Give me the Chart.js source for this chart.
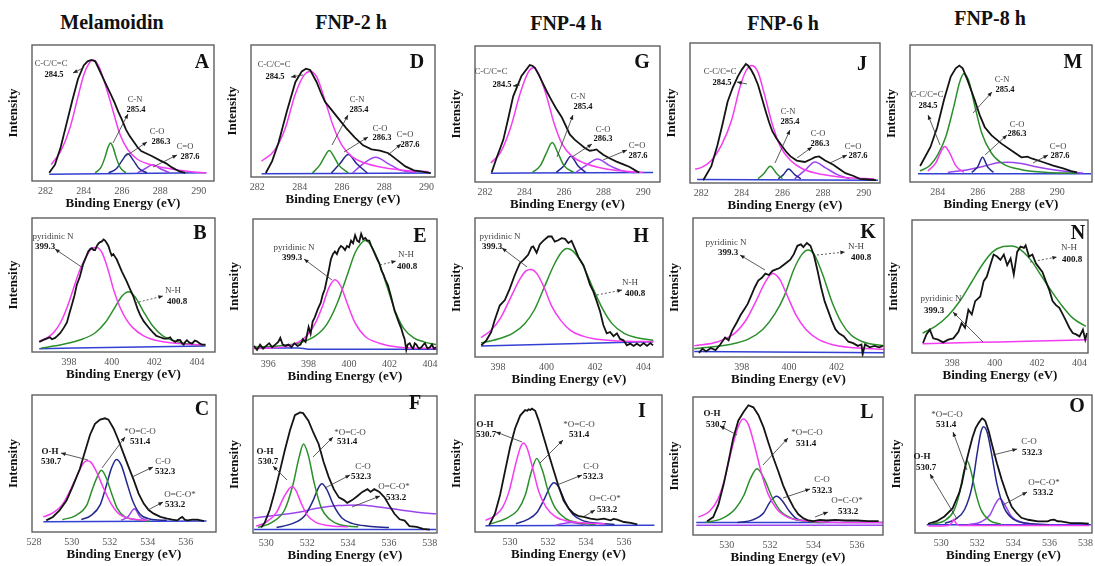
<!DOCTYPE html>
<html>
<head>
<meta charset="utf-8">
<script src="https://cdn.jsdelivr.net/npm/chart.js@4.4.1/dist/chart.umd.min.js"></script>
<style>
  body { margin: 0; background: #fff; width: 1095px; height: 566px; overflow: hidden; position: relative; font-family: "Liberation Serif", serif; }
  canvas { position: absolute; }
  .sample { position: absolute; font-weight: bold; font-size: 20px; color: #111; transform: translate(-50%, -50%); white-space: nowrap; }
</style>
</head>
<body>
<script>
// ---- categories / labels ----
const sampleNames = ["Melamoidin", "FNP-2 h", "FNP-4 h", "FNP-6 h", "FNP-8 h"];
const c1sNames = ["C-C/C=C", "C-N", "C-O", "C=O"];
const c1sEnergies = ["284.5", "285.4", "286.3", "287.6"];
const n1sNames = ["pyridinic N", "N-H"];
const n1sEnergies = ["399.3", "400.8"];
const o1sNames = ["O-H", "*O=C-O", "C-O", "O=C-O*"];
const o1sEnergies = ["530.7", "531.4", "532.3", "533.2"];

// ---- tick labels ----
const c1sTicks = [282, 284, 286, 288, 290];
const c1sTicksM = [284, 286, 288, 290];
const n1sTicks = [398, 400, 402, 404];
const n1sTicksE = [396, 398, 400, 402, 404];
const n1sTicksK = [398, 400, 402];
const o1sTicksC = [528, 530, 532, 534, 536];
const o1sTicksF = [530, 532, 534, 536, 538];
const o1sTicksI = [530, 532, 534, 536];

// ---- C 1s series: [binding energy, intensity %] ----
const A_raw = [[282.2,6],[282.5,12],[282.8,25],[283.1,42],[283.4,59],[283.7,75],[284.0,85],[284.2,88],[284.4,89],[284.6,88],[284.8,82],[285.0,76],[285.2,70],[285.4,64],[285.6,58],[285.8,51],[286.0,45],[286.2,38],[286.4,33],[286.6,29],[286.8,25],[287.0,22],[287.3,20],[287.6,18],[288.0,15],[288.3,13],[288.6,10],[289.0,7],[289.3,6]];
const A_cc = [[282.3,12],[282.8,22],[283.3,40],[283.7,62],[284.0,78],[284.3,87],[284.5,89],[284.8,84],[285.1,72],[285.5,53],[285.9,34],[286.3,23],[286.8,16],[287.5,12],[288.5,9],[289.5,7],[290.4,6]];
const A_cn = [[284.6,6],[284.9,10],[285.1,17],[285.25,24],[285.4,28],[285.55,24],[285.7,17],[285.9,10],[286.2,6]];
const A_co = [[285.3,6],[285.7,9],[286.0,15],[286.3,20],[286.6,15],[286.9,9],[287.3,6]];
const A_cdo = [[286.8,6],[287.2,9],[287.6,12],[288.0,9],[288.5,6]];
const A_base = [[282.2,5],[290.4,6]];

const D_raw = [[282.4,3],[282.7,12],[283.0,26],[283.4,50],[283.8,72],[284.1,80],[284.3,82],[284.5,81],[284.8,72],[285.0,64],[285.2,57],[285.5,51],[285.8,45],[286.0,41],[286.2,37],[286.6,30],[287.0,24],[287.4,21],[287.8,20],[288.2,18],[288.6,13],[289.0,8],[289.4,5],[289.8,4],[290.2,3]];
const D_cc = [[282.2,12],[282.8,20],[283.3,36],[283.8,63],[284.2,77],[284.5,80],[284.8,76],[285.2,58],[285.6,38],[286.0,24],[286.5,15],[287.0,11],[288.0,7],[289.0,5],[290.1,4]];
const D_cn = [[284.6,3],[284.95,9],[285.2,16],[285.4,20],[285.6,16],[285.85,9],[286.3,3]];
const D_co = [[285.5,3],[285.9,10],[286.3,17],[286.7,10],[287.2,3]];
const D_cdo = [[286.5,3],[287.0,10],[287.6,15],[288.2,10],[288.8,5],[289.5,3]];
const D_base = [[282.2,2.5],[290.2,3]];

const G_raw = [[282.34,7],[282.6,18],[282.93,31],[283.2,48],[283.43,63],[283.85,78],[284.27,86],[284.4,85.5],[284.53,84],[284.75,78],[284.95,72],[285.15,66],[285.37,60],[285.6,54],[285.87,48],[286.1,41],[286.29,35],[286.55,31],[286.8,28],[287.05,25],[287.3,23],[287.5,23.5],[287.64,24],[287.8,22],[287.98,20],[288.3,17.5],[288.65,15],[289.0,13],[289.32,11],[289.66,8],[289.8,7]];
const G_cc = [[282.3,14],[282.8,22],[283.3,40],[283.8,66],[284.2,81],[284.45,84],[284.7,80],[285.1,64],[285.5,43],[285.9,28],[286.4,19],[287.0,14],[288.0,10],[289.0,8],[290.0,7]];
const G_cn = [[284.4,7],[284.8,12],[285.1,21],[285.4,29],[285.7,21],[286.0,12],[286.5,7]];
const G_co = [[285.6,7],[286.0,12],[286.34,19],[286.7,12],[287.1,7]];
const G_cdo = [[286.6,7],[287.1,12],[287.7,17],[288.3,12],[289.0,8],[289.6,7]];
const G_base = [[282.3,6.5],[290.5,7]];

const J_raw = [[282.1,2],[282.5,12],[282.8,27],[283.05,42],[283.3,58],[283.55,68],[283.8,76],[284.0,81],[284.2,85],[284.3,84],[284.45,81],[284.6,77],[284.8,70],[285.0,60],[285.2,50],[285.35,43],[285.5,37],[285.7,32],[285.95,27],[286.2,22],[286.4,19],[286.7,16],[287.1,15],[287.4,17],[287.6,18.5],[287.8,19],[288.1,16],[288.5,13],[288.8,10],[289.1,7],[289.5,5],[289.8,3],[290.2,2.5],[290.6,2]];
const J_cc = [[281.7,10],[282.0,11],[282.5,16],[283.0,27],[283.5,45],[283.9,68],[284.2,80],[284.5,84],[284.8,79],[285.1,64],[285.5,42],[285.9,26],[286.4,16],[287.0,10],[288.0,6],[289.0,4],[290.5,3]];
const J_cn = [[284.8,3],[285.1,7],[285.4,12],[285.7,7],[286.0,3]];
const J_co = [[285.8,3],[286.05,6],[286.3,10],[286.6,6],[286.9,3]];
const J_cdo = [[286.6,3],[287.1,9],[287.6,15],[288.1,11],[288.7,6],[289.3,3]];
const J_base = [[281.8,2.5],[290.7,2]];

const M_raw = [[283.11,11.7],[283.63,25.6],[283.97,40],[284.31,60],[284.65,77],[284.9,83],[285.08,85],[285.25,83],[285.5,74],[285.85,60],[286.1,49],[286.36,40],[286.7,34],[287.2,28],[287.7,23],[288.2,18],[288.5,18.5],[288.75,17],[289.27,14.6],[289.8,12],[290.3,10],[290.7,8],[291.0,7]];
const M_cc = [[283.5,8],[283.9,14],[284.15,22],[284.35,26],[284.6,21],[284.9,12],[285.3,7]];
const M_cn = [[283.1,8],[283.6,12],[284.0,20],[284.4,33],[284.8,55],[285.1,73],[285.3,79],[285.55,74],[285.85,56],[286.2,36],[286.7,21],[287.3,13],[288.2,9],[289.5,7],[291.0,6.5]];
const M_co = [[285.7,7],[286.0,11],[286.25,18],[286.5,11],[286.8,7]];
const M_cdo = [[284.5,7],[285.5,9],[286.3,11.5],[287.0,14],[287.5,14.5],[288.2,13.5],[289.0,11],[289.8,9],[290.6,7.5],[291.3,6.5]];
const M_base = [[283.0,6],[291.7,6]];

// ---- N 1s series ----
const B_raw = [[396.6,7.5],[396.8,9],[396.95,10],[397.1,11],[397.2,9.5],[397.34,10.5],[397.45,12],[397.58,14],[397.75,18],[397.9,22],[398.0,28],[398.13,35],[398.25,42],[398.36,50],[398.5,56],[398.6,62],[398.67,66],[398.8,71],[398.9,75],[399.0,77],[399.07,77.5],[399.15,76],[399.22,76],[399.3,79],[399.38,81],[399.46,82],[399.54,82.5],[399.62,84],[399.7,83],[399.78,81],[399.85,79],[399.93,75],[400.0,72],[400.08,73],[400.16,71],[400.24,69],[400.32,66],[400.4,63],[400.48,60],[400.6,56],[400.71,52.5],[400.83,48],[400.95,44],[401.03,41],[401.1,37.5],[401.22,32],[401.34,27.5],[401.5,23],[401.65,20],[401.8,17],[401.97,14],[402.1,12],[402.28,11],[402.45,10],[402.6,10],[402.75,11],[402.83,9],[402.98,7.5],[403.1,9],[403.22,8.8],[403.3,6.5],[403.38,5.5],[403.45,7.5],[403.53,8.8],[403.65,7],[403.77,6.2],[403.9,8.5],[404.0,8],[404.12,6.5],[404.24,5.5],[404.4,5.5]];
const B_pyr = [[396.6,8],[397.0,11],[397.3,15],[397.6,22],[397.9,33],[398.2,47],[398.5,61],[398.8,71],[399.05,77],[399.3,78],[399.55,74],[399.8,63],[400.1,46],[400.4,33],[400.7,24],[401.0,18],[401.5,12],[402.0,9],[402.5,7.5],[403.0,6.5],[404.0,5.5],[404.4,5.5]];
const B_nh = [[396.7,3],[397.5,5],[398.5,9],[399.2,14],[399.7,22],[400.1,32],[400.5,42],[400.8,45],[401.1,41],[401.5,30],[401.9,20],[402.4,12],[403.0,8],[403.6,6],[404.4,5]];
const B_base = [[396.6,2.5],[404.4,4.5]];

const E_raw = [[395.3,6],[395.45,3],[395.6,7],[395.75,4],[395.9,6],[396.05,8],[396.2,5],[396.35,7],[396.5,9],[396.6,12],[396.72,7],[396.85,6],[397.0,7],[397.15,5],[397.3,8],[397.45,6],[397.6,7],[397.72,11],[397.85,9],[398.0,20],[398.1,15],[398.2,24],[398.3,27],[398.45,33],[398.6,38],[398.7,44],[398.8,48],[398.9,55],[399.0,62],[399.1,70],[399.2,74],[399.3,76],[399.4,74],[399.5,78],[399.6,80],[399.7,79],[399.8,77],[399.9,80],[400.0,79],[400.1,84],[400.2,82],[400.3,88],[400.4,84],[400.5,83],[400.6,89],[400.7,85],[400.8,86],[400.9,84],[401.0,84],[401.1,80],[401.25,75],[401.4,70],[401.5,67],[401.6,62],[401.7,59],[401.8,55],[401.92,51],[402.05,44],[402.17,37],[402.25,32],[402.33,29],[402.45,24],[402.58,19],[402.68,14],[402.75,11],[402.83,3],[402.9,7],[403.0,8],[403.1,5],[403.17,4],[403.25,8],[403.33,7],[403.45,4],[403.58,5],[403.68,7],[403.75,8],[403.88,4],[404.0,5],[404.1,7],[404.2,4],[404.3,5]];
const E_pyr = [[395.3,4],[396.0,4.5],[397.0,6],[397.8,12],[398.3,22],[398.7,36],[399.0,49],[399.3,55],[399.6,50],[399.9,38],[400.3,23],[400.8,13],[401.5,8],[402.5,5],[404.35,4]];
const E_nh = [[395.3,5],[396.5,6],[397.5,8],[398.3,13],[398.9,22],[399.4,37],[399.9,58],[400.3,75],[400.6,82],[400.8,84],[401.1,80],[401.5,67],[401.9,49],[402.3,31],[402.7,19],[403.2,12],[403.7,9],[404.3,7]];
const E_base = [[395.3,4.5],[397.5,4.5],[398.0,3.5],[404.35,3.5]];

const H_raw = [[397.31,8.4],[397.52,12],[397.72,18],[397.86,26.5],[398.07,37],[398.28,41],[398.48,49],[398.69,59],[398.9,67.5],[399.06,70],[399.24,73.5],[399.38,79],[399.45,79.5],[399.59,75],[399.72,81],[399.86,83.6],[400.07,86.7],[400.21,86.7],[400.34,83],[400.48,84],[400.62,85.5],[400.76,85],[400.9,82],[401.03,83.6],[401.17,78],[401.31,72],[401.52,66],[401.66,59],[401.79,52],[401.93,47],[402.07,40],[402.21,32.5],[402.34,23],[402.48,17],[402.62,18],[402.76,15],[402.9,17],[403.03,13],[403.17,12],[403.31,8.4],[403.45,9.6],[403.59,8],[403.72,9.6],[403.86,8],[404.0,10],[404.14,8],[404.28,10],[404.39,8.4]];
const H_pyr = [[397.3,14],[397.7,19],[398.1,28],[398.5,42],[398.9,56],[399.15,62],[399.35,63],[399.6,60],[399.9,50],[400.2,37],[400.6,26],[401.0,19],[401.5,15],[402.0,13],[403.0,11.5],[404.4,11]];
const H_nh = [[397.3,10],[398.0,13],[398.6,17],[399.1,24],[399.5,34],[399.9,50],[400.3,66],[400.6,75],[400.85,78],[401.1,76],[401.5,66],[401.9,50],[402.3,35],[402.7,24],[403.2,17],[403.7,14],[404.4,12]];
const H_base = [[397.3,8],[404.4,11]];

const K_raw = [[396.2,3],[396.35,6],[396.5,4],[396.7,6.5],[396.9,5],[397.1,9],[397.3,14],[397.45,12],[397.6,19],[397.8,25],[397.95,30],[398.1,34],[398.25,38],[398.4,44],[398.55,50],[398.7,55],[398.85,57],[399.0,60],[399.15,59],[399.3,62],[399.45,63],[399.6,64],[399.75,66],[399.9,68],[400.05,70],[400.2,74],[400.35,80],[400.5,81],[400.6,79],[400.75,82],[400.9,80],[401.05,73],[401.2,62],[401.35,50],[401.5,40],[401.65,33],[401.8,26],[401.95,20],[402.1,17],[402.3,15],[402.5,11],[402.7,10],[402.9,8],[403.05,9],[403.1,2],[403.2,9],[403.4,7],[403.6,8],[403.8,7],[403.95,8]];
const K_pyr = [[396.0,8],[397.0,11],[397.7,17],[398.2,27],[398.6,40],[399.0,54],[399.3,60],[399.6,56],[399.9,45],[400.3,30],[400.7,20],[401.2,13],[401.8,9],[402.5,7],[404.0,5.5]];
const K_nh = [[396.0,6],[397.5,9],[398.3,13],[398.9,20],[399.4,31],[399.8,44],[400.2,63],[400.55,74],[400.8,77],[401.05,74],[401.4,60],[401.8,40],[402.2,25],[402.6,16],[403.1,11],[404.0,8]];
const K_base = [[396.0,4],[404.0,3]];

const N_raw = [[396.62,7.5],[396.78,14],[396.94,17.5],[397.1,11],[397.33,10],[397.57,8],[397.81,10],[398.05,11],[398.29,16],[398.44,22.5],[398.6,19],[398.76,32.5],[398.92,29],[399.08,39],[399.32,42.5],[399.48,54],[399.63,57.5],[399.79,66],[399.95,74],[400.11,72.5],[400.27,70],[400.43,74],[400.59,66],[400.75,71],[400.9,59],[401.06,76],[401.22,80],[401.38,79],[401.46,81],[401.62,72.5],[401.78,74],[401.94,67.5],[402.1,64],[402.25,61],[402.41,54],[402.57,47.5],[402.73,39],[402.89,36],[403.05,34],[403.21,29],[403.37,24],[403.52,19],[403.68,15],[403.84,14],[404.0,12.5],[404.16,17.5],[404.27,10],[404.35,15]];
const N_pyr = [[396.6,7],[399.3,8],[402.0,9],[404.35,10]];
const N_nh = [[396.6,15],[397.2,20],[397.8,28],[398.4,40],[398.9,53],[399.4,66],[399.9,76],[400.4,80],[400.8,80.5],[401.2,78],[401.7,70],[402.2,58],[402.7,46],[403.2,35],[403.7,26],[404.3,20]];

// ---- O 1s series ----
const C_raw = [[528.65,8.5],[529.0,11],[529.36,16],[529.72,23],[530.07,34],[530.42,46],[530.69,58.5],[530.96,71],[531.22,79],[531.49,82],[531.75,83],[531.93,82],[532.2,75.6],[532.46,67],[532.73,57],[532.99,47.5],[533.26,38],[533.52,28],[533.79,20.7],[534.05,16],[534.32,13.4],[534.67,11],[535.03,9.8],[535.3,9],[535.56,8.5],[535.7,10],[535.82,11],[535.95,9],[536.09,8.5],[536.35,9],[536.62,9],[536.8,8.5],[536.97,8]];
const C_oh = [[528.5,11],[529.0,14],[529.5,20],[529.9,30],[530.3,42],[530.6,50],[530.8,52],[531.0,51],[531.3,44],[531.7,31],[532.1,20],[532.5,13],[533.0,10],[533.5,9],[534.0,8.5]];
const C_ooc = [[529.5,9],[530.2,12],[530.8,20],[531.1,32],[531.4,42],[531.55,45],[531.8,40],[532.1,28],[532.4,17],[532.8,11],[533.4,9],[534.1,8]];
const C_co = [[530.5,9],[531.0,12],[531.5,20],[531.8,33],[532.1,47],[532.35,53],[532.6,49],[532.9,36],[533.2,23],[533.6,13],[534.1,9.5],[535.0,8.5]];
const C_oco = [[532.6,8.5],[532.95,11],[533.3,17],[533.6,11],[533.95,8.5]];
const C_base = [[528.5,7.5],[537.1,8]];

const F_raw = [[529.75,4],[529.92,7.5],[530.17,17],[530.41,30],[530.66,45],[530.9,60],[531.16,75],[531.4,86],[531.65,88],[531.8,87.5],[532.06,82],[532.31,73],[532.56,65],[532.8,52],[533.05,41],[533.3,32],[533.55,26],[533.8,24],[533.96,22],[534.2,24],[534.46,27],[534.7,30],[534.95,32],[535.1,30],[535.28,32],[535.53,30],[535.78,26],[536.02,20],[536.27,14],[536.52,10],[536.77,9],[537.0,5],[537.35,4.5],[537.67,3],[538.0,2.5]];
const F_oh = [[529.5,5],[530.0,8],[530.5,15],[530.85,26],[531.1,32],[531.25,34],[531.45,31],[531.7,22],[532.0,13],[532.4,8],[533.0,5.5],[534.0,4.5]];
const F_ooc = [[529.6,4],[530.3,8],[530.9,17],[531.3,35],[531.6,55],[531.82,65],[532.05,57],[532.35,36],[532.7,18],[533.1,10],[533.6,6],[534.5,4.5]];
const F_co = [[530.5,4],[531.3,7],[531.9,13],[532.3,24],[532.55,33],[532.72,36],[532.95,32],[533.3,20],[533.7,11],[534.2,7],[535.0,5],[536.0,4]];
const F_oco = [[529.4,11],[530.5,13],[531.5,15],[532.5,18],[533.5,20],[534.5,20.5],[535.5,19],[536.5,17],[537.5,15],[538.3,14]];
const F_base = [[529.4,2.5],[538.3,2.5]];

const I_raw = [[528.9,5],[529.2,13.4],[529.47,27],[529.74,45],[530.0,62],[530.26,75.6],[530.53,85],[530.79,89],[530.9,88.5],[530.97,89.5],[531.06,89],[531.15,90],[531.32,88.5],[531.5,81.7],[531.76,69.5],[532.03,57],[532.29,45],[532.56,33],[532.82,23],[533.09,17],[533.35,13.4],[533.62,11.5],[533.88,11],[534.23,9.8],[534.59,9],[534.94,9.8],[535.29,8.5],[535.45,9.5],[535.64,9],[536.0,7.3],[536.35,6.6],[536.7,5.6]];
const I_oh = [[528.7,8.5],[529.2,12],[529.6,18],[529.95,30],[530.3,50],[530.55,62],[530.7,65],[530.9,61],[531.2,46],[531.5,30],[531.9,18],[532.4,11],[533.0,8],[534.0,6.5],[535.0,6]];
const I_ooc = [[529.0,6],[529.8,10],[530.4,16],[530.8,27],[531.1,43],[531.4,53.7],[531.7,45],[532.0,30],[532.4,17],[532.9,10],[533.5,7],[534.5,5.5]];
const I_co = [[530.3,6],[530.9,9],[531.4,14],[531.8,24],[532.1,33],[532.3,36],[532.55,33],[532.9,22],[533.3,13],[533.8,8.5],[534.5,6.5],[535.5,5.5]];
const I_oco = [[532.4,5],[533.2,7],[534.0,5]];
const I_base = [[528.7,4.5],[537.6,5]];

const L_raw = [[529.1,10],[529.38,13],[529.62,22],[529.85,36],[530.08,53],[530.3,70],[530.54,83],[530.77,89],[531.0,94],[531.23,92.5],[531.46,87],[531.7,78],[531.92,67],[532.15,56],[532.38,46],[532.6,36],[532.85,27],[533.08,20],[533.3,15],[533.54,12],[533.77,10.5],[534.0,10],[534.3,11],[534.6,10.5],[535.0,11],[535.5,10.5],[536.0,10.5],[536.5,10],[537.0,10]];
const L_oh = [[528.7,13],[529.2,17],[529.6,26],[529.9,40],[530.2,60],[530.5,77],[530.75,84],[531.0,80],[531.3,64],[531.6,45],[531.9,30],[532.3,19],[532.8,13],[533.5,10.5],[534.5,9.5],[536.0,9],[537.2,9]];
const L_ooc = [[529.0,9],[529.8,12],[530.4,19],[530.8,29],[531.1,41],[531.4,48],[531.75,40],[532.1,27],[532.5,17],[533.0,12],[533.7,10],[534.5,9]];
const L_co = [[530.5,9],[531.2,11],[531.7,16],[532.0,24],[532.3,28],[532.55,25],[532.85,18],[533.2,12],[533.7,10],[534.3,9]];
const L_oco = [[528.6,7],[537.2,7]];
const L_base = [[528.6,9],[537.2,9]];

const O_raw = [[529.27,6.7],[529.73,8.4],[530.18,12],[530.64,18],[530.8,23],[531.0,29],[531.15,36],[531.27,44],[531.4,52],[531.55,60],[531.73,69],[531.91,76],[532.09,80],[532.2,82],[532.27,83],[532.35,82.5],[532.45,81],[532.64,73.5],[532.82,64],[533.09,50.6],[533.36,38.5],[533.64,27.7],[533.91,19],[534.18,14.5],[534.45,11],[534.82,9.6],[535.36,8.4],[535.9,8.4],[536.1,9.5],[536.27,9.6],[536.45,8.5],[536.64,8.4],[537.18,7.2],[537.73,7.2],[538.18,6.7]];
const O_oh = [[529.3,5],[530.4,5.5],[530.6,7.5],[530.7,10],[530.8,7.5],[531.0,5.5],[538.2,5.5]];
const O_ooc = [[529.5,6.5],[530.2,9],[530.7,16],[531.0,28],[531.25,44],[531.45,52],[531.65,45],[531.9,30],[532.2,17],[532.7,9],[533.3,6.5]];
const O_co = [[530.2,7],[530.8,10],[531.3,17],[531.7,33],[532.0,58],[532.2,73],[532.35,77],[532.55,73],[532.8,57],[533.1,35],[533.5,18],[534.0,10],[534.8,7],[536.0,6]];
const O_oco = [[531.5,6],[532.2,8],[532.7,13],[533.0,21],[533.25,25],[533.5,21],[533.9,12],[534.4,8],[535.0,6.5],[536.0,6]];
const O_base = [[529.2,6],[538.3,6]];

// ---- looks ----
const looks = {
  c1s: { names: c1sNames, energies: c1sEnergies, size: 8.5, colors: ["#141414", "#f53cf2", "#2b8f2b", "#23288c", "#9b45ef", "#3340d4"] },
  n1s: { names: n1sNames, energies: n1sEnergies, size: 9, colors: ["#141414", "#f53cf2", "#2b8f2b", "#3340d4"] },
  o1s: { names: o1sNames, energies: o1sEnergies, size: 9, colors: ["#141414", "#f53cf2", "#2b8f2b", "#23288c", "#9b45ef", "#3340d4"] }
};

// ---- panel layout (page pixels): frame, axis range, note spots [nameX,nameY,valX,valY, arrow x1,y1,x2,y2] ----
const panels = [
  { letter: "A", kind: "c1s", frame: [32, 45, 214, 181], range: [281.3, 290.8], ticks: c1sTicks, letterAt: [202, 63],
    series: [A_raw, A_cc, A_cn, A_co, A_cdo, A_base],
    spots: [[51,64,54,75, 83,68,73,73], [135,100,136,110, 113,143,128,114], [157,132,161,142, 126,156,147,142], [185,147,190,157, 153,167,177,155]] },
  { letter: "D", kind: "c1s", frame: [251, 45, 435, 177], range: [281.7, 290.4], ticks: c1sTicks, letterAt: [417, 63],
    series: [D_raw, D_cc, D_cn, D_co, D_cdo, D_base],
    spots: [[274,65,275,77, 303,75,291,77], [357,100,359,110, 332,145,348,115], [380,129,382,138, 344,152,368,137], [405,135,410,145, 388,155,401,144]] },
  { letter: "G", kind: "c1s", frame: [475, 46, 660, 182], range: [281.5, 290.85], ticks: c1sTicks, letterAt: [642, 63],
    series: [G_raw, G_cc, G_cn, G_co, G_cdo, G_base],
    spots: [[491,72,502,85, 520,85,513,86], [578,97,583,107, 557,157,573,115], [603,130,603,139, 572,157,592,144], [637,146,638,156, 603,160,627,150]] },
  { letter: "J", kind: "c1s", frame: [690, 43, 880, 183], range: [281.45, 290.8], ticks: c1sTicks, letterAt: [862, 65],
    series: [J_raw, J_cc, J_cn, J_co, J_cdo, J_base],
    spots: [[720,72,722,83, 747,84,737,82], [788,112,790,122, 775,163,790,130], [818,134,820,144, 797,158,812,147], [853,147,858,156, 830,163,847,155]] },
  { letter: "M", kind: "c1s", frame: [910, 45, 1092, 182], range: [282.6, 291.75], ticks: c1sTicksM, letterAt: [1073, 63],
    series: [M_raw, M_cc, M_cn, M_co, M_cdo, M_base],
    spots: [[927,95,928,106, 940,145,928,115], [1002,80,1005,90, 973,113,992,92], [1017,125,1017,134, 985,155,1007,135], [1058,147,1060,156, 1033,163,1048,155]] },

  { letter: "B", kind: "n1s", frame: [32, 218, 215, 352], range: [396.26, 404.85], ticks: n1sTicks, letterAt: [200, 234],
    series: [B_raw, B_pyr, B_nh, B_base],
    spots: [[53,237,45,247, 83,268,55,249], [173,291,177,302, 135,303,163,296]] },
  { letter: "E", kind: "n1s", frame: [253, 219, 437, 354], range: [395.25, 404.35], ticks: n1sTicksE, letterAt: [420, 237],
    series: [E_raw, E_pyr, E_nh, E_base],
    spots: [[294,248,292,258, 332,280,304,259], [406,255,407,267, 380,265,396,261]] },
  { letter: "H", kind: "n1s", frame: [475, 218, 663, 357], range: [397.05, 404.8], ticks: n1sTicks, letterAt: [641, 237],
    series: [H_raw, H_pyr, H_nh, H_base],
    spots: [[500,237,492,247, 527,267,502,248], [630,283,635,294, 597,295,622,290]] },
  { letter: "K", kind: "n1s", frame: [693, 218, 884, 357], range: [395.95, 404.0], ticks: n1sTicksK, letterAt: [868, 233],
    series: [K_raw, K_pyr, K_nh, K_base],
    spots: [[726,243,728,253, 765,270,740,255], [856,247,861,258, 817,255,845,252]] },
  { letter: "N", kind: "n1s", frame: [912, 220, 1088, 353], range: [396.1, 404.4], ticks: n1sTicks, letterAt: [1078, 234],
    series: [N_raw, N_pyr, N_nh],
    spots: [[941,299,934,311, 983,342,953,312], [1069,248,1072,260, 1030,262,1057,257]] },

  { letter: "C", kind: "o1s", frame: [32, 395, 216, 532], range: [527.9, 537.6], ticks: o1sTicksC, letterAt: [202, 410],
    series: [C_raw, C_oh, C_ooc, C_co, C_oco, C_base],
    spots: [[50,452,51,462, 88,460,61,453], [140,432,140,442, 102,468,125,437], [163,462,165,472, 132,477,153,467], [180,495,175,505, 148,510,163,502]] },
  { letter: "F", kind: "o1s", frame: [253, 396, 437, 533], range: [529.35, 538.35], ticks: o1sTicksF, letterAt: [415, 404],
    series: [F_raw, F_oh, F_ooc, F_co, F_oco, F_base],
    spots: [[265,452,268,462, 287,480,273,466], [350,433,347,442, 313,457,333,437], [363,467,361,477, 325,488,350,475], [394,487,396,498, 352,507,380,496]] },
  { letter: "I", kind: "o1s", frame: [475, 395, 662, 532], range: [528.15, 538.0], ticks: o1sTicksI, letterAt: [642, 412],
    series: [I_raw, I_oh, I_ooc, I_co, I_oco, I_base],
    spots: [[485,425,486,435, 522,442,496,432], [579,425,579,435, 540,463,563,440], [591,467,593,477, 557,485,582,475], [605,499,607,510, 583,517,595,510]] },
  { letter: "L", kind: "o1s", frame: [693, 397, 883, 535], range: [528.45, 537.2], ticks: o1sTicksI, letterAt: [867, 413],
    series: [L_raw, L_oh, L_ooc, L_co, L_oco, L_base],
    spots: [[712,414,716,425, 737,435,720,426], [807,433,806,444, 763,465,788,438], [822,480,822,491, 783,498,810,489], [847,501,848,512, 815,517,828,512]] },
  { letter: "O", kind: "o1s", frame: [915, 395, 1092, 533], range: [528.55, 538.36], ticks: o1sTicksF, letterAt: [1077, 407],
    series: [O_raw, O_oh, O_ooc, O_co, O_oco, O_base],
    spots: [[922,457,926,468, 957,519,930,474], [947,415,946,425, 967,470,953,432], [1029,442,1032,453, 993,455,1017,449], [1044,483,1043,493, 1003,505,1027,492]] }
];

const titleSpots = [[112, 22], [351, 22], [566, 23], [783, 23], [990, 18]];

const FONT = '"Liberation Serif", "Times New Roman", serif';

// frame, peak labels with leader arrows, panel letter
const notesPlugin = {
  id: "peakNotes",
  afterDatasetsDraw(chart, args, o) {
    const ctx = chart.ctx, a = chart.chartArea;
    ctx.save();
    ctx.strokeStyle = "#5e5e5e";
    ctx.lineWidth = 1.4;
    ctx.strokeRect(a.left, a.top, a.right - a.left, a.bottom - a.top);

    o.spots.forEach((s, i) => {
      const name = o.names[i];
      const x1 = s[4] - o.ox, y1 = s[5] - o.oy, x2 = s[6] - o.ox, y2 = s[7] - o.oy;
      ctx.strokeStyle = "#333";
      ctx.lineWidth = 0.8;
      ctx.setLineDash(name === "N-H" ? [2, 2] : []);
      ctx.beginPath();
      ctx.moveTo(x1, y1);
      ctx.lineTo(x2, y2);
      ctx.stroke();
      ctx.setLineDash([]);
      const ang = Math.atan2(y2 - y1, x2 - x1);
      ctx.fillStyle = "#222";
      ctx.beginPath();
      ctx.moveTo(x2, y2);
      ctx.lineTo(x2 - 5 * Math.cos(ang - 0.4), y2 - 5 * Math.sin(ang - 0.4));
      ctx.lineTo(x2 - 5 * Math.cos(ang + 0.4), y2 - 5 * Math.sin(ang + 0.4));
      ctx.closePath();
      ctx.fill();

      ctx.textAlign = "center";
      ctx.textBaseline = "middle";
      const boldName = name === "O-H";
      ctx.font = (boldName ? "bold " : "") + o.size + "px " + FONT;
      ctx.fillStyle = boldName ? "#111" : "#444";
      ctx.fillText(name, s[0] - o.ox, s[1] - o.oy);
      ctx.font = "bold " + o.size + "px " + FONT;
      ctx.fillStyle = "#111";
      ctx.fillText(o.energies[i], s[2] - o.ox, s[3] - o.oy);
    });

    ctx.font = "bold 20px " + FONT;
    ctx.fillStyle = "#111";
    ctx.textAlign = "center";
    ctx.textBaseline = "middle";
    ctx.fillText(o.letter, o.letterAt[0] - o.ox, o.letterAt[1] - o.oy);
    ctx.restore();
  }
};

sampleNames.forEach((name, i) => {
  const d = document.createElement("div");
  d.className = "sample";
  d.textContent = name;
  d.style.left = titleSpots[i][0] + "px";
  d.style.top = titleSpots[i][1] + "px";
  document.body.appendChild(d);
});

panels.forEach(p => {
  const [fl, ft, fr, fb] = p.frame;
  const ox = fl - 30, oy = ft - 2;
  const W = fr - fl + 36, H = fb - ft + 34;
  const cv = document.createElement("canvas");
  cv.width = W;
  cv.height = H;
  cv.style.left = ox + "px";
  cv.style.top = oy + "px";
  cv.style.width = W + "px";
  cv.style.height = H + "px";
  document.body.appendChild(cv);

  const look = looks[p.kind];

  new Chart(cv, {
    type: "line",
    data: {
      datasets: p.series.map((pts, i) => ({
        data: pts.map(([x, y]) => ({ x, y })),
        borderColor: look.colors[i],
        borderWidth: i === 0 ? 1.8 : 1.5,
        pointRadius: 0,
        tension: 0,
        cubicInterpolationMode: i === 0 ? "default" : "monotone",
        fill: false
      }))
    },
    options: {
      responsive: false,
      animation: false,
      layout: { padding: { top: 2, right: 6, left: 0, bottom: 0 } },
      plugins: {
        legend: { display: false },
        tooltip: { enabled: false },
        peakNotes: { ox, oy, spots: p.spots, names: look.names, energies: look.energies, size: look.size, letter: p.letter, letterAt: p.letterAt }
      },
      scales: {
        x: {
          type: "linear",
          min: p.range[0],
          max: p.range[1],
          grid: { display: false, drawTicks: false, tickLength: 0 },
          border: { display: false },
          afterBuildTicks: s => { s.ticks = p.ticks.map(v => ({ value: v })); },
          afterFit: s => { s.height = 32; },
          ticks: { autoSkip: false, maxRotation: 0, padding: 4, color: "#555", font: { family: FONT, size: 10 } },
          title: { display: true, text: "Binding Energy (eV)", color: "#111", padding: { top: 0, bottom: 2 }, font: { family: FONT, size: 13, weight: "bold" } }
        },
        y: {
          min: 0,
          max: 100,
          ticks: { display: false },
          grid: { display: false, drawTicks: false },
          border: { display: false },
          afterFit: s => { s.width = 30; },
          title: { display: true, text: "Intensity", color: "#111", padding: { top: 4, bottom: 0 }, font: { family: FONT, size: 13, weight: "bold" } }
        }
      }
    },
    plugins: [notesPlugin]
  });
});
</script>
</body>
</html>
